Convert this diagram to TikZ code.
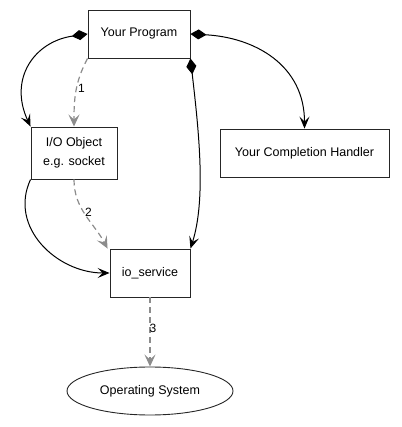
\documentclass[tikz,border=0pt]{standalone}
\usepackage{fontspec}
\setmainfont{Liberation Sans}
\usetikzlibrary{arrows.meta,shapes.geometric}
\begin{document}
\begin{tikzpicture}[x=1pt,y=1pt,
  box/.style={draw=black!85,line width=0.9pt,rectangle,inner sep=0pt,
    font=\fontsize{12.5}{19}\selectfont,align=center},
  solidedge/.style={draw=black,line width=1pt,
    -{Stealth[length=12pt,width=10pt,inset=5pt]}},
  owner/.style={solidedge,{Diamond[length=16pt,width=10pt]}-{Stealth[length=12pt,width=10pt,inset=5pt]}},
  dashedge/.style={draw=black!45,line width=1.2pt,dash pattern=on 6pt off 4pt,
    -{Stealth[length=12pt,width=11pt,inset=5pt,black!45]}},
  lbl/.style={font=\fontsize{12}{14}\selectfont,inner sep=1pt}]
\useasboundingbox (0,0) rectangle (401,427);
\node[box,minimum width=102pt,minimum height=48pt] (prog) at (139,393) {Your Program};
\node[box,minimum width=169pt,minimum height=48pt] (handler) at (304.5,274) {Your Completion Handler};
\node[box,minimum width=86pt,minimum height=52pt] (io) at (74,274) {I/O Object\\e.g. socket};
\node[box,minimum width=80pt,minimum height=48pt] (svc) at (150,154) {io\_service};
\node[draw=black!85,line width=0.9pt,ellipse,minimum width=166pt,minimum height=48pt,inner sep=0pt,
  font=\fontsize{12.5}{15}\selectfont] (os) at (150,36) {Operating System};
% solid owner edges
\draw[owner] (prog.west) to[out=188,in=115,looseness=1.25] (io.north west);
\draw[owner] (prog.east) to[out=-3,in=90,looseness=1.1] (handler.north);
\draw[owner] (prog.south east) .. controls ([xshift=8pt,yshift=-70pt]prog.south east)
  and ([xshift=16pt,yshift=50pt]svc.north east) .. (svc.north east);
\draw[solidedge] (io.south west) to[out=-115,in=180,looseness=1.1] (svc.west);
% dashed edges
\draw[dashedge] (prog.south west) to[out=-118,in=90] node[lbl,right,pos=0.45] (l1) {1} (io.north);
\draw[dashedge] (io.south) to[out=-90,in=118] node[lbl,right,pos=0.45] (l2) {2} ([xshift=-2pt]svc.north west);
\draw[dashedge] (svc.south) -- node[lbl,right,pos=0.45,xshift=-2pt] (l3) {3} (os.north);
\end{tikzpicture}
\end{document}
